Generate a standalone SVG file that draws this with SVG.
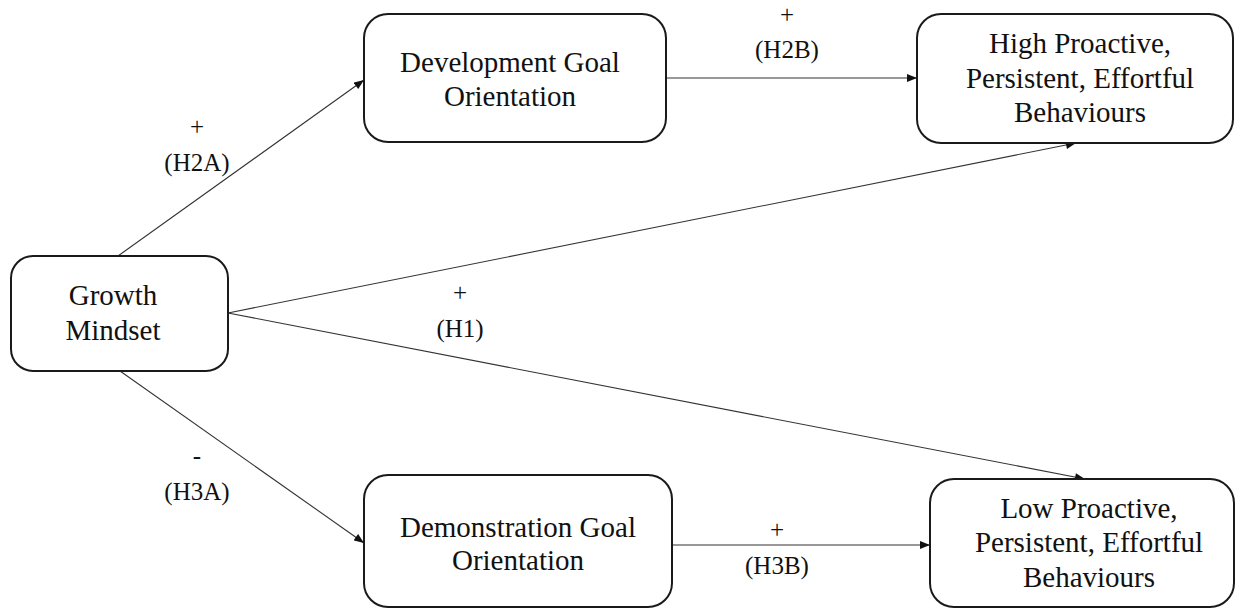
<svg xmlns="http://www.w3.org/2000/svg" width="1236" height="609" viewBox="0 0 1236 609">
  <style>
    .box { fill: #ffffff; stroke: #1a1a1a; stroke-width: 2; }
    .node-text { font-family: 'Liberation Serif', Tinos, 'Times New Roman', 'DejaVu Serif', serif; font-size: 29px; fill: #111111; text-anchor: middle; }
    .label { font-family: 'Liberation Serif', Tinos, 'Times New Roman', 'DejaVu Serif', serif; font-size: 25px; fill: #111111; text-anchor: middle; }
    .edge { fill: none; stroke: #333333; stroke-width: 1.1; }
  </style>
  <defs>
    <marker id="arrow" viewBox="0 0 10 8" refX="10" refY="4" markerWidth="11" markerHeight="8" markerUnits="userSpaceOnUse" orient="auto">
      <path d="M0,0 L10,4 L0,8 Z" fill="#111111"/>
    </marker>
  </defs>

  <rect width="1236" height="609" fill="#ffffff"/>

  <!-- connectors -->
  <g id="connectors">
    <line class="edge" x1="118" y1="256" x2="364" y2="80" marker-end="url(#arrow)"/>
    <line class="edge" x1="666" y1="78" x2="917" y2="78" marker-end="url(#arrow)"/>
    <line class="edge" x1="228" y1="313" x2="1076" y2="143" marker-end="url(#arrow)"/>
    <line class="edge" x1="228" y1="313" x2="1085" y2="479" marker-end="url(#arrow)"/>
    <line class="edge" x1="120" y1="371" x2="364" y2="543" marker-end="url(#arrow)"/>
    <line class="edge" x1="672" y1="545" x2="930" y2="545" marker-end="url(#arrow)"/>
  </g>

  <!-- edge labels -->
  <g id="labels">
    <text class="label" x="197" y="135">+</text>
    <text class="label" x="197" y="171">(H2A)</text>
    <text class="label" x="787" y="23">+</text>
    <text class="label" x="787" y="58">(H2B)</text>
    <text class="label" x="460" y="301">+</text>
    <text class="label" x="460" y="337">(H1)</text>
    <text class="label" x="197" y="464">-</text>
    <text class="label" x="197" y="500">(H3A)</text>
    <text class="label" x="777" y="538">+</text>
    <text class="label" x="777" y="574">(H3B)</text>
  </g>

  <g id="growth-mindset">
    <rect class="box" x="11" y="256" width="217" height="115" rx="22" ry="22"/>
    <text class="node-text" x="113" y="305">Growth</text>
    <text class="node-text" x="113" y="340">Mindset</text>
  </g>

  <g id="development-goal">
    <rect class="box" x="364" y="14" width="302" height="128" rx="24" ry="24"/>
    <text class="node-text" x="510" y="72">Development Goal</text>
    <text class="node-text" x="510" y="106">Orientation</text>
  </g>

  <g id="high-behaviours">
    <rect class="box" x="917" y="14" width="316" height="129" rx="24" ry="24"/>
    <text class="node-text" x="1080" y="53">High Proactive,</text>
    <text class="node-text" x="1080" y="88">Persistent, Effortful</text>
    <text class="node-text" x="1080" y="122">Behaviours</text>
  </g>

  <g id="demonstration-goal">
    <rect class="box" x="364" y="475" width="308" height="132" rx="24" ry="24"/>
    <text class="node-text" x="518" y="537">Demonstration Goal</text>
    <text class="node-text" x="518" y="570">Orientation</text>
  </g>

  <g id="low-behaviours">
    <rect class="box" x="930" y="479" width="304" height="128" rx="24" ry="24"/>
    <text class="node-text" x="1089" y="518">Low Proactive,</text>
    <text class="node-text" x="1089" y="552">Persistent, Effortful</text>
    <text class="node-text" x="1089" y="587">Behaviours</text>
  </g>
</svg>
